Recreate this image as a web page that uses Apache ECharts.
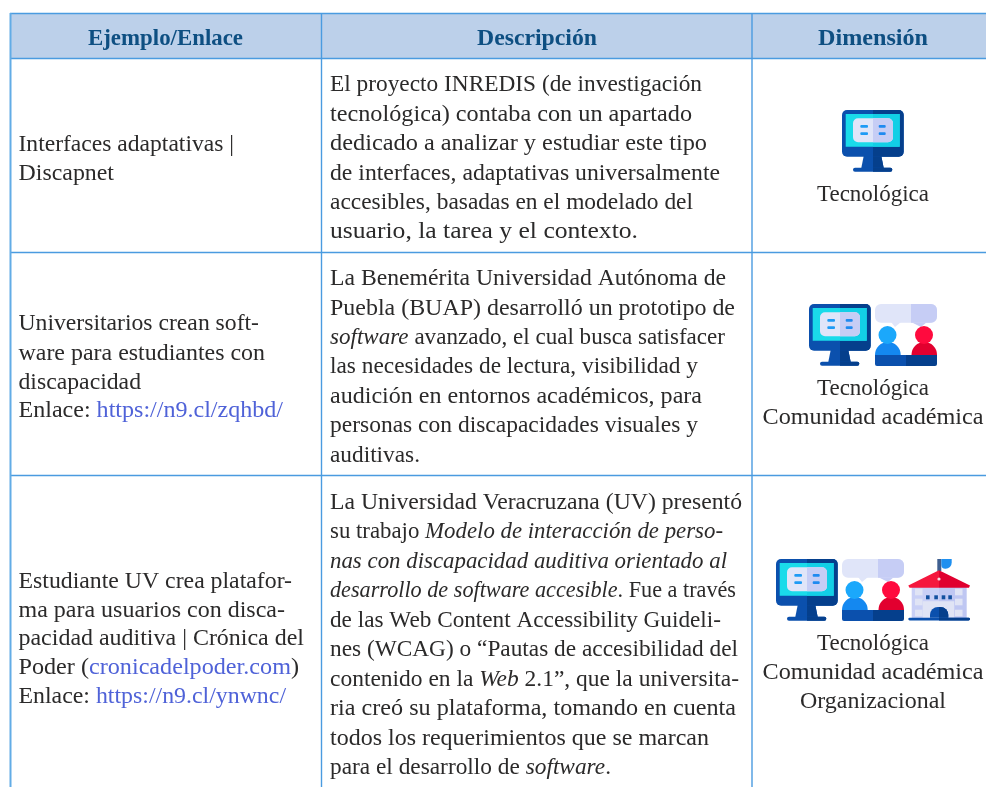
<!DOCTYPE html>
<html><head><meta charset="utf-8">
<style>html,body{margin:0;padding:0;background:#fff}#c{width:986px;height:787px}</style>
<script src="https://cdn.jsdelivr.net/npm/echarts@6/dist/echarts.min.js"></script>
</head><body><div id="c"></div>
<script>
// ---- content (*x* = italic, [x] = link)
const headers = ['Ejemplo/Enlace', 'Descripción', 'Dimensión'];
const examples = [
  ['Interfaces adaptativas |', 'Discapnet'],
  ['Universitarios crean soft-', 'ware para estudiantes con', 'discapacidad', 'Enlace: [https://n9.cl/zqhbd/]'],
  ['Estudiante UV crea platafor-', 'ma para usuarios con disca-', 'pacidad auditiva | Crónica del', 'Poder ([cronicadelpoder.com])', 'Enlace: [https://n9.cl/ynwnc/]']
];
const descriptions = [
  ['El proyecto INREDIS (de investigación', 'tecnológica) contaba con un apartado', 'dedicado a analizar y estudiar este tipo', 'de interfaces, adaptativas universalmente', 'accesibles, basadas en el modelado del', 'usuario, la tarea y el contexto.'],
  ['La Benemérita Universidad Autónoma de', 'Puebla (BUAP) desarrolló un prototipo de', '*software* avanzado, el cual busca satisfacer', 'las necesidades de lectura, visibilidad y', 'audición en entornos académicos, para', 'personas con discapacidades visuales y', 'auditivas.'],
  ['La Universidad Veracruzana (UV) presentó', 'su trabajo *Modelo de interacción de perso-*', '*nas con discapacidad auditiva orientado al*', '*desarrollo de software accesible*. Fue a través', 'de las Web Content Accessibility Guideli-', 'nes (WCAG) o “Pautas de accesibilidad del', 'contenido en la *Web* 2.1”, que la universita-', 'ria creó su plataforma, tomando en cuenta', 'todos los requerimientos que se marcan', 'para el desarrollo de *software*.']
];
const dimensions = [
  ['Tecnológica'],
  ['Tecnológica', 'Comunidad académica'],
  ['Tecnológica', 'Comunidad académica', 'Organizacional']
];
const rowIcons = [['monitor'], ['monitor', 'people'], ['monitor', 'people', 'school']];

// ---- layout, kept apart from the content
const FONT = '"Liberation Serif", serif', FS = 23;
const TEXT = '#2b2a2a', LINK = '#4f62d8', HEAD = '#0e4f82', RULE = '#4a9be0';
const exampleEnds = [[234, 114], [259, 265, 141, 283], [292, 285, 304, 299, 286]];
const exampleBase = [[150, 179], [329, 358.5, 387.5, 416], [586.5, 615.5, 644, 673, 702]];
const descEnds = [[702, 692, 707, 720, 693, 638], [726, 735, 725, 698, 702, 698, 420], [742, 723, 727, 736, 721, 738, 739, 736, 709, 611]];
const descBase = [89.8, 283.7, 507.5], descStep = 29.45;
const dimWidth = {'Tecnológica': 112, 'Comunidad académica': 221, 'Organizacional': 146};
const dimBase = [[200], [393.5, 423], [649, 678, 707]];
const iconPos = [[[842, 110]], [[809, 304], [875, 304]], [[776, 559], [842, 559], [908, 559]]];
const headSpan = [[88, 243], [477, 597], [818, 928]];

const ctx = document.createElement('canvas').getContext('2d');
function fontStr(o) { return (o.italic ? 'italic ' : '') + (o.bold ? 'bold ' : '') + FS + 'px ' + FONT; }
function parseRuns(s) {
  const runs = []; let cur = '', italic = false, link = false;
  const flush = () => { if (cur) runs.push({t: cur, italic, link}); cur = ''; };
  for (const ch of s) {
    if (ch === '*') { flush(); italic = !italic; }
    else if (ch === '[') { flush(); link = true; }
    else if (ch === ']') { flush(); link = false; }
    else cur += ch;
  }
  flush(); return runs;
}
const els = [];
function putLine(s, x0, x1, base, o) {
  o = o || {};
  const runs = parseRuns(s);
  let nat = 0;
  runs.forEach(r => { ctx.font = fontStr({italic: r.italic, bold: o.bold}); r.w = ctx.measureText(r.t).width; nat += r.w; });
  const sx = (x1 - x0) / nat; let x = x0;
  runs.forEach(r => {
    els.push({type: 'text', x, y: base - 0.2 * FS, scaleX: sx, silent: true, z: 5,
      style: {text: r.t, x: 0, y: 0, font: fontStr({italic: r.italic, bold: o.bold}), fill: r.link ? LINK : (o.color || TEXT), align: 'left', verticalAlign: 'middle'}});
    x += r.w * sx;
  });
}
function rect(x, y, w, h, fill, r) { return {type: 'rect', shape: {x, y, width: w, height: h, r: r || 0}, style: {fill}, silent: true, z: 3}; }
function poly(points, fill) { return {type: 'polygon', shape: {points}, style: {fill}, silent: true, z: 3}; }
function circ(cx, cy, r, fill) { return {type: 'circle', shape: {cx, cy, r}, style: {fill}, silent: true, z: 3}; }
function dome(x0, x1, top, bot, fill) {
  const rx = (x1 - x0) / 2;
  return rect(x0, top, x1 - x0, bot - top, fill, [rx, rx, 0, 0]);
}
const B1 = '#0b50ad', B2 = '#053f8c', L1 = '#e0e5f9', L2 = '#c6cdf5';
const ICONS = {
  monitor: () => [
    poly([[21.7,46],[39.3,46],[41.7,58],[19.3,58]], B1), poly([[31,46],[39.3,46],[41.7,58],[31,58]], B2),
    rect(11,57.7,39.3,4,B1,2), rect(31,57.7,19.3,4,B2,[0,2,2,0]),
    rect(0,0,61.7,46.7,B1,5), rect(31,0,30.7,46.7,B2,[0,5,5,0]),
    rect(3.7,4,54,32.7,'#1adbea'), rect(31,4,26.7,32.7,'#12cfe6'),
    rect(11,8.3,40,24,L1,5), rect(31,8.3,20,24,L2,[0,5,5,0]),
    rect(18.3,15,7.7,2.7,'#1f9bf5',1), rect(18.3,22.3,7.7,2.7,'#1f9bf5',1),
    rect(36.7,15,7,2.7,'#1f8af0',1), rect(36.7,22.3,7,2.7,'#1f8af0',1)
  ],
  people: () => [
    poly([[16,18],[26,18],[20,23]], L1), poly([[36,18],[52,18],[46,23]], L2),
    rect(0,0,62,18.7,L1,6), rect(36,0,26,18.7,L2,[0,6,6,0]),
    dome(0,25.7,38,51.5,'#1488f0'), circ(12.5,31,9,'#1ba8fb'),
    dome(36.5,62,38,51.5,'#e2002f'), circ(49,31,9,'#ff0a3e'),
    rect(0,51,31,11,B1,[0,0,0,2]), rect(31,51,31,11,B2,[0,0,2,0])
  ],
  school: () => {
    const W1 = '#c9d0f6', W2 = '#bfc7f2', P = '#e0e4f5';
    const a = [
      rect(29.3,0,4,12,'#3f5f90'), rect(33.3,0,10.4,9.7,'#1f90f0',[0,0,6,4]),
      rect(3.7,28,27.3,31,W1), rect(31,28,27.7,31,W2),
      rect(14.7,42.3,31.6,16.4,P)
    ];
    [[7,29.7],[7,39.7],[7,50.7],[47,29.7],[47,39.7],[47,50.7]].forEach(p => a.push(rect(p[0],p[1],7.5,6.6,P)));
    [18,26.3,33.7,40.3].forEach(x => a.push(rect(x,36.3,3.6,4,'#12509f')));
    a.push(
      poly([[31,11.3],[0.3,26.5],[1.5,28.7],[31,28.7]], '#f5173e'), poly([[31,11.3],[62,26.5],[61,28.7],[31,28.7]], '#e0002f'),
      circ(31,20,1.6,'#f6dbe2'),
      rect(22,48,18.3,10.7,B1,[8,8,0,0]), rect(31,48,9.3,10.7,B2,[0,8,0,0]),
      rect(0.3,58.7,61.7,2.8,B1,1.4), rect(31,58.7,31,2.8,B2,[0,1.4,1.4,0])
    );
    return a;
  }
};

// header band
els.push({type: 'rect', shape: {x: 10, y: 13.5, width: 976, height: 45}, style: {fill: '#bcd0ea'}, silent: true, z: 1});
// rules
function rule(x1, y1, x2, y2, w, c) { els.push({type: 'line', shape: {x1, y1, x2, y2}, style: {stroke: c || RULE, lineWidth: w}, silent: true, z: 2}); }
[13.5, 58.5, 252.5, 475.5].forEach(y => rule(10, y, 986, y, 1.4));
rule(10.5, 13, 10.5, 787, 2, '#62ace6');
rule(321.5, 13, 321.5, 787, 1.4);
rule(752, 13, 752, 787, 1.4);

headers.forEach((h, i) => putLine(h, headSpan[i][0], headSpan[i][1], 43.3, {bold: true, color: HEAD}));
examples.forEach((ls, r) => ls.forEach((l, i) => putLine(l, 18.5, exampleEnds[r][i], exampleBase[r][i])));
descriptions.forEach((ls, r) => ls.forEach((l, i) => putLine(l, 330, descEnds[r][i], descBase[r] + i * descStep)));
dimensions.forEach((ls, r) => ls.forEach((l, i) => { const w = dimWidth[l]; putLine(l, 873 - w / 2, 873 + w / 2, dimBase[r][i]); }));
rowIcons.forEach((ic, r) => ic.forEach((n, i) => {
  els.push({type: 'group', x: iconPos[r][i][0], y: iconPos[r][i][1], children: ICONS[n]()});
}));

const chart = echarts.init(document.getElementById('c'), null, {renderer: 'canvas', width: 986, height: 787});
chart.setOption({animation: false, backgroundColor: '#ffffff', graphic: {elements: els}});
</script></body></html>
